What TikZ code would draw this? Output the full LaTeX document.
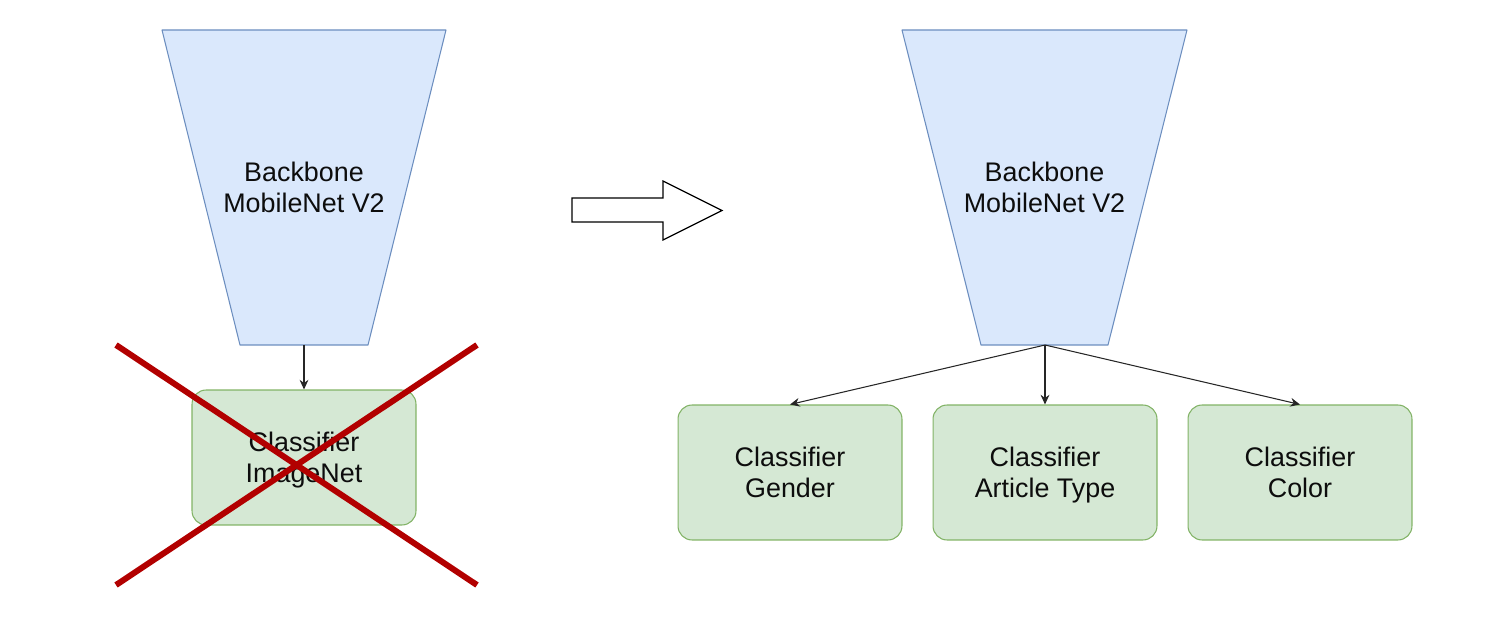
\documentclass[tikz,border=0pt]{standalone}
\usepackage{fontspec}
\setmainfont{Liberation Sans}
\usetikzlibrary{arrows.meta}
\definecolor{bbfill}{HTML}{DAE8FC}
\definecolor{bbdraw}{HTML}{6C8EBF}
\definecolor{clsfill}{HTML}{D5E8D4}
\definecolor{clsdraw}{HTML}{82B366}
\definecolor{crossred}{HTML}{B20000}
\newcommand{\topfix}{\rule{0pt}{16pt}}
\begin{document}
\begin{tikzpicture}[x=0.02cm,y=-0.02cm,
  bbshape/.style={fill=bbfill,draw=bbdraw,line width=0.6pt,line join=round},
  lbl/.style={align=center,inner sep=0pt,text=black!95,font=\fontsize{15.3}{17.6}\selectfont},
  cls/.style={rectangle,rounded corners=8pt,fill=clsfill,draw=clsdraw,line width=0.6pt,
    minimum width=4.48cm,minimum height=2.7cm,align=center,text=black!95,
    font=\fontsize{15.3}{17.6}\selectfont},
  conn/.style={-{Stealth[length=5.5pt,width=5pt]},line width=0.6pt,draw=black!85},
  cross/.style={draw=crossred,line width=3.4pt},
  bigarrow/.style={draw=black,fill=white,line width=0.7pt,line join=miter}]
\useasboundingbox (0,0) rectangle (1492,628);

% left backbone
\draw[bbshape] (162,30) -- (446,30) -- (368,345) -- (240,345) -- cycle;
\node[lbl] (bb1) at (304,187) {Backbone\\MobileNet V2};
\coordinate (bb1bot) at (304,345);

% left classifier
\node[cls] (c1) at (304,457.5) {\topfix Classifier\\ImageNet\strut};
\draw[conn] (bb1bot) -- (c1.north);

% red cross
\coordinate (xa) at (116,345);
\coordinate (xb) at (477,585);
\coordinate (xc) at (477,345);
\coordinate (xd) at (116,585);
\draw[cross] (xa) -- (xb);
\draw[cross] (xc) -- (xd);

% block arrow
\draw[bigarrow] (572,198) -- (663,198) -- (663,181) -- (722,210.5) -- (663,240) -- (663,222) -- (572,222) -- cycle;

% right backbone
\draw[bbshape] (902,30) -- (1187,30) -- (1108,345) -- (981,345) -- cycle;
\node[lbl] (bb2) at (1044.5,187) {Backbone\\MobileNet V2};
\coordinate (bb2bot) at (1045,345);

% right classifiers
\node[cls] (g) at (790,472.5) {\topfix Classifier\\Gender\strut};
\node[cls] (a) at (1045,472.5) {\topfix Classifier\\Article Type\strut};
\node[cls] (c) at (1300,472.5) {\topfix Classifier\\Color\strut};
\draw[conn] (bb2bot) -- (g.north);
\draw[conn] (bb2bot) -- (a.north);
\draw[conn] (bb2bot) -- (c.north);
\end{tikzpicture}
\end{document}
